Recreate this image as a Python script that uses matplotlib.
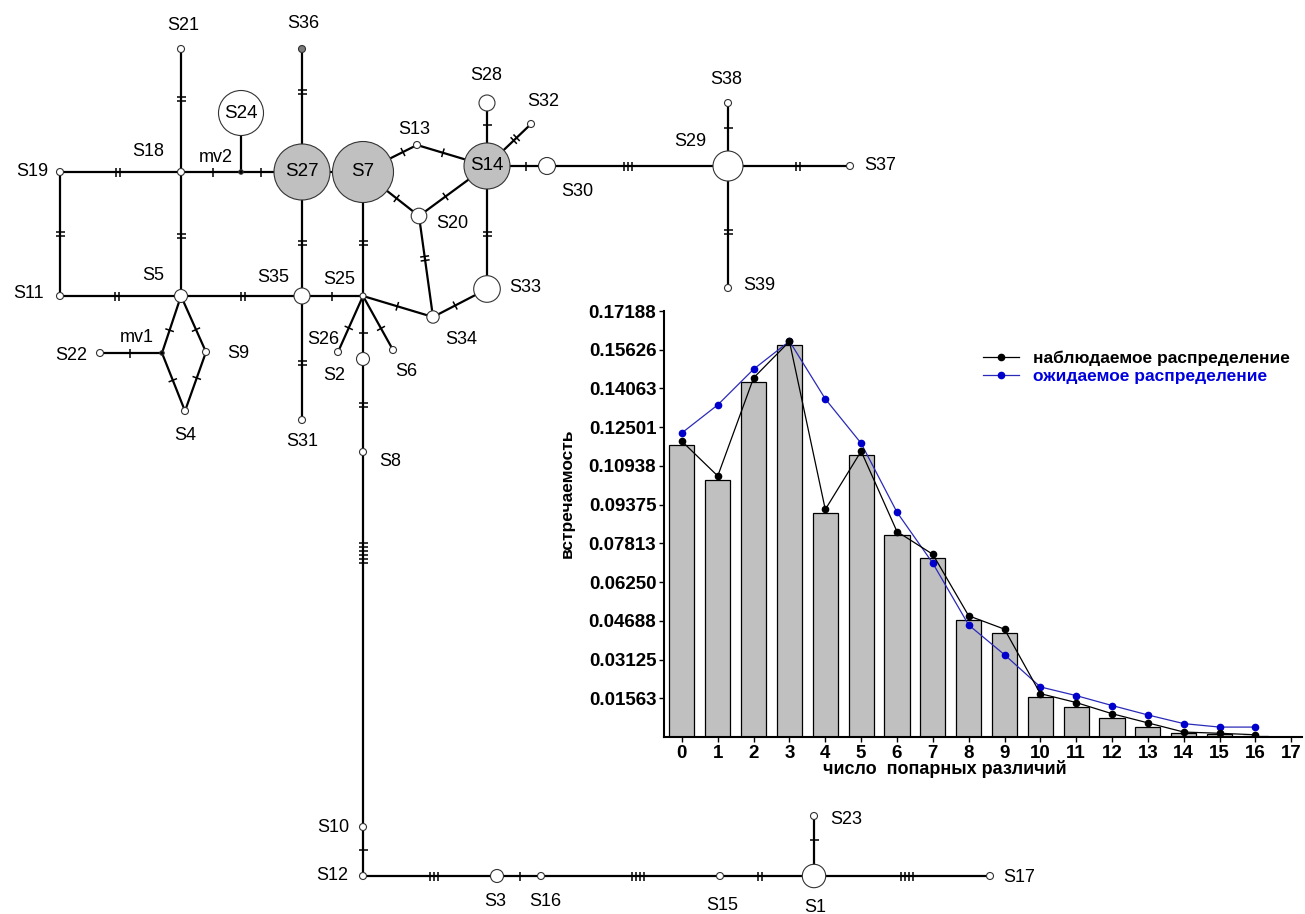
import matplotlib
matplotlib.use('Agg')
import matplotlib.pyplot as plt
import numpy as np

plt.rcParams['font.family'] = ['Liberation Sans', 'DejaVu Sans']

# ---- mismatch distribution data ----
diffs = list(range(17))
obs_bars = [0.1177, 0.1037, 0.1432, 0.1580, 0.0903, 0.1136, 0.0814, 0.0721, 0.0474,
            0.0418, 0.0162, 0.0123, 0.0078, 0.0042, 0.0015, 0.0012, 0.0003]
obs_line = [0.1193, 0.1053, 0.1449, 0.1596, 0.0918, 0.1153, 0.0829, 0.0737, 0.0489,
            0.0435, 0.0175, 0.0139, 0.0094, 0.0057, 0.0020, 0.0015, 0.0009]
expected = [0.1227, 0.1340, 0.1484, 0.1597, 0.1364, 0.1185, 0.0907, 0.0701, 0.0452,
            0.0332, 0.0202, 0.0167, 0.0127, 0.0089, 0.0054, 0.0040, 0.0040]
ytick_labels = ['0.01563', '0.03125', '0.04688', '0.06250', '0.07813', '0.09375',
                '0.10938', '0.12501', '0.14063', '0.15626', '0.17188']
xtick_labels = [str(i) for i in range(18)]

# ---- haplotype network (pixel layout: x, y, radius) ----
nodes = {
    'S1': (814, 876, 11.7), 'S2': (363, 359, 6.5), 'S3': (497, 876, 6.5),
    'S4': (185, 411, 3.5), 'S5': (181, 296, 6.5), 'S6': (393, 350, 3.5),
    'S7': (363, 172, 30.5), 'S8': (363, 452, 3.5), 'S9': (206, 352, 3.5),
    'S10': (363, 827, 3.5), 'S11': (60, 296, 3.5), 'S12': (363, 876, 3.5),
    'S13': (417, 145, 3.5), 'S14': (487, 166, 23), 'S15': (720, 876, 3.5),
    'S16': (541, 876, 3.5), 'S17': (990, 876, 3.5), 'S18': (181, 172, 3.5),
    'S19': (60, 172, 3.5), 'S20': (419, 216, 7.8), 'S21': (181, 49, 3.5),
    'S22': (100, 353, 3.5), 'S23': (814, 816, 3.5), 'S24': (241, 113, 22.5),
    'S25': (363, 296, 3.0), 'S26': (338, 352, 3.5), 'S27': (302, 172, 28),
    'S28': (487, 103, 8), 'S29': (728, 166, 15), 'S30': (547, 166, 8.5),
    'S31': (302, 420, 3.5), 'S32': (531, 124, 3.5), 'S33': (487, 289, 13.3),
    'S34': (433, 317, 6.2), 'S35': (302, 296, 8), 'S36': (302, 49, 3.5),
    'S37': (850, 166, 3.5), 'S38': (728, 103, 3.5), 'S39': (728, 288, 3.5),
    'mv1': (162, 353, 2.2), 'mv2': (241, 172, 2.2),
}
gray_nodes = ['S7', 'S27', 'S14']
dark_nodes = ['S36']
black_nodes = ['mv1', 'mv2']
inside_labels = ['S7', 'S27', 'S14', 'S24']

# (from, to, number of mutations, relative position of hash marks)
edges = [
    ('S18', 'S21', 2, 0.59), ('S18', 'S19', 2, 0.52), ('S18', 'mv2', 1, 0.53),
    ('mv2', 'S27', 1, 0.33), ('mv2', 'S24', 0, 0.5), ('S27', 'S36', 2, 0.65),
    ('S19', 'S11', 2, 0.50), ('S18', 'S5', 2, 0.52), ('S11', 'S5', 2, 0.47),
    ('S5', 'S35', 2, 0.51), ('S27', 'S35', 2, 0.57), ('S7', 'S25', 2, 0.57),
    ('S35', 'S25', 1, 0.49), ('S25', 'S34', 1, 0.49), ('S7', 'S13', 1, 0.74),
    ('S13', 'S14', 1, 0.37), ('S7', 'S20', 1, 0.60), ('S20', 'S14', 1, 0.39),
    ('S20', 'S34', 2, 0.42), ('S34', 'S33', 1, 0.41), ('S14', 'S33', 2, 0.55),
    ('S14', 'S28', 1, 0.65), ('S14', 'S32', 2, 0.64), ('S14', 'S30', 1, 0.65),
    ('S30', 'S29', 3, 0.45), ('S29', 'S38', 1, 0.60), ('S29', 'S37', 2, 0.57),
    ('S29', 'S39', 2, 0.54), ('S5', 'mv1', 1, 0.60), ('S5', 'S9', 1, 0.60),
    ('mv1', 'S22', 1, 0.52), ('mv1', 'S4', 1, 0.47), ('S9', 'S4', 1, 0.44),
    ('S25', 'S26', 1, 0.57), ('S25', 'S2', 1, 0.59), ('S25', 'S6', 1, 0.60),
    ('S35', 'S31', 2, 0.54), ('S2', 'S8', 2, 0.49), ('S8', 'S10', 6, 0.27),
    ('S10', 'S12', 1, 0.47), ('S12', 'S3', 3, 0.53), ('S3', 'S16', 1, 0.52),
    ('S16', 'S15', 4, 0.54), ('S15', 'S1', 2, 0.43), ('S1', 'S23', 1, 0.60),
    ('S1', 'S17', 4, 0.53), ('S27', 'S7', 0, 0.5),
]

label_pos = {
    'S1': (815, 908), 'S2': (334, 376), 'S3': (495, 902), 'S4': (185, 435),
    'S5': (153, 275), 'S6': (406, 371), 'S8': (390, 462), 'S9': (238, 354),
    'S10': (333, 827), 'S11': (29, 294), 'S12': (332, 876), 'S13': (414, 130),
    'S15': (722, 906), 'S16': (545, 902), 'S17': (1019, 877), 'S18': (148, 151),
    'S19': (32, 172), 'S20': (452, 223), 'S21': (183, 26), 'S22': (71, 355),
    'S23': (846, 820), 'S25': (339, 279), 'S26': (323, 339), 'S28': (486, 75),
    'S29': (690, 142), 'S30': (577, 192), 'S31': (302, 442), 'S32': (543, 102),
    'S33': (525, 288), 'S34': (461, 339), 'S35': (273, 278), 'S36': (303, 23),
    'S37': (880, 166), 'S38': (726, 79), 'S39': (759, 285), 'mv1': (137, 338),
    'mv2': (216, 157),
}

W, H = 1305, 914
fig = plt.figure(figsize=(W / 100, H / 100), dpi=100)
fig.patch.set_facecolor('white')

net = fig.add_axes([0, 0, 1, 1])
net.set_xlim(0, W)
net.set_ylim(H, 0)
net.axis('off')


def hash_marks(ax, a, b, t, n, half=4.5, gap=4.0):
    a = np.array(a, dtype=float)
    b = np.array(b, dtype=float)
    d = b - a
    u = d / np.hypot(*d)
    perp = np.array([-u[1], u[0]])
    c = a + t * d
    for k in range(n):
        p = c + u * (k - (n - 1) / 2) * gap
        ax.plot([p[0] - perp[0] * half, p[0] + perp[0] * half],
                [p[1] - perp[1] * half, p[1] + perp[1] * half],
                color='black', lw=1.1, solid_capstyle='butt', zorder=2)


for a, b, n, t in edges:
    xa, ya, _ = nodes[a]
    xb, yb, _ = nodes[b]
    net.plot([xa, xb], [ya, yb], color='black', lw=1.6, zorder=1)
    if n:
        hash_marks(net, (xa, ya), (xb, yb), t, n)

for name, (x, y, r) in nodes.items():
    if name in gray_nodes:
        fc = '#c0c0c0'
    elif name in dark_nodes:
        fc = '#7a7a7a'
    elif name in black_nodes:
        fc = 'black'
    else:
        fc = 'white'
    net.add_patch(plt.Circle((x, y), r, facecolor=fc, edgecolor='#333333',
                             lw=0.8, zorder=3))
    if name in inside_labels:
        net.text(x, y, name, ha='center', va='center', fontsize=13.5, zorder=4)
    else:
        lx, ly = label_pos[name]
        net.text(lx, ly, name, ha='center', va='center', fontsize=13, zorder=4)

# ---- inset mismatch distribution ----
left, right, top, bottom = 664, 1302, 311, 737
ax = fig.add_axes([left / W, 1 - bottom / H, (right - left) / W, (bottom - top) / H])
ax.set_facecolor('none')

ax.bar(diffs, obs_bars, width=0.7, color='#c0c0c0', edgecolor='black', lw=0.9, zorder=1)
ax.plot(diffs, obs_line, color='black', lw=0.9, marker='o', ms=4.5,
        label='наблюдаемое распределение', zorder=3)
ax.plot(diffs, expected, color='#2a2ab8', lw=0.9, marker='o', ms=4.5,
        mfc='#0000cc', mec='#0000cc', label='ожидаемое распределение', zorder=2)

ax.set_xlim(-0.5, 17.3)
ax.set_ylim(0, 0.171875)
ax.set_xticks(range(18))
ax.set_xticklabels(xtick_labels, fontsize=13.5, fontweight='bold')
ax.set_yticks(np.arange(1, 12) * 0.015625)
ax.set_yticklabels(ytick_labels, fontsize=13.5, fontweight='bold')
ax.tick_params(axis='both', direction='out', length=3.5, width=1.0, pad=2)
for s in ['top', 'right']:
    ax.spines[s].set_visible(False)
for s in ['left', 'bottom']:
    ax.spines[s].set_linewidth(1.5)

ax.set_xlabel('число  попарных различий', fontsize=13, fontweight='bold')
ax.xaxis.set_label_coords(0.44, -0.055)
ax.set_ylabel('встречаемость', fontsize=12.5, fontweight='bold')
ax.yaxis.set_label_coords(-0.14, 0.573)

leg = ax.legend(loc='upper left', bbox_to_anchor=(983 / W, 1 - 351 / H),
                bbox_transform=fig.transFigure, frameon=False, handlelength=2.1,
                handletextpad=0.8, borderpad=0, borderaxespad=0, labelspacing=0.15,
                prop={'size': 12.5, 'weight': 'bold'})
leg.get_texts()[1].set_color('#0000dd')

fig.savefig('out.png', dpi=100)
